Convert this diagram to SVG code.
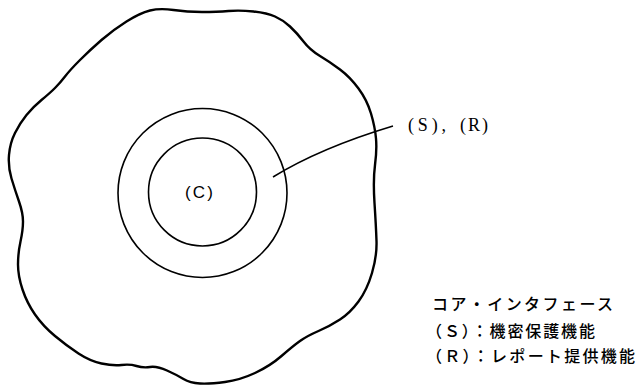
<svg xmlns="http://www.w3.org/2000/svg" width="638" height="386" viewBox="0 0 638 386">
<style>
.blob{fill:none;stroke:#000;stroke-width:2.4;stroke-linejoin:round}
.ring{fill:none;stroke:#000;stroke-width:1.6}
.lead{fill:none;stroke:#000;stroke-width:1.5}
.lbl{font-family:"Liberation Sans",Arial,sans-serif;font-size:17px;fill:#000}
.ser{font-family:"Liberation Serif","Times New Roman",serif;font-size:18px;fill:#000}
.jp{font-family:"Noto Sans CJK JP","Noto Sans CJK SC",sans-serif;font-size:16px;fill:#000;font-weight:500}
</style>
<rect width="638" height="386" fill="#fff"/>
<g id="environment">
<path class="blob" d="M150,10.5 Q160,8 173.5,10 Q187,12 202,12 Q217,12 228.5,11 Q240,10 253.5,11.5 Q267,13 275,16.5 Q283,20 290,26.5 Q297,33 303.5,41.5 Q310,50 320,56 Q330,62 340,69.5 Q350,77 358.5,88.5 Q367,100 371,113.5 Q375,127 376,138.5 Q377,150 375,165 Q373,180 374.5,203 Q376,226 376.5,241 Q377,256 372,273 Q367,290 358.5,301.5 Q350,313 340,319.5 Q330,326 318.5,331 Q307,336 300,341 Q293,346 281.5,356 Q270,366 255,373 Q240,380 225,382 Q210,384 200,383.5 Q190,383 183.5,379 Q177,375 167,370.5 Q157,366 150,367 Q143,368 136.5,366 Q130,364 121.5,365 Q113,366 101.5,363.5 Q90,361 78.5,353.5 Q67,346 55,336 Q43,326 35,314.5 Q27,303 22.5,289.5 Q18,276 18,264.5 Q18,253 20.5,241.5 Q23,230 23,221.5 Q23,213 19,201.5 Q15,190 11.5,178.5 Q8,167 9,155 Q10,143 15,133 Q20,123 26.5,115 Q33,107 41.5,100 Q50,93 55,88 Q60,83 65,76.5 Q70,70 80,60 Q90,50 101.5,40 Q113,30 126.5,21.5 Q140,13 150,10.5 Z"/>
</g>
<g id="ring-SR">
<circle class="ring" cx="202.5" cy="193" r="84.5"/>
</g>
<g id="core-C">
<circle class="ring" cx="202.5" cy="192" r="54"/>
<text class="lbl" x="185" y="198" textLength="28" lengthAdjust="spacing">(C)</text>
</g>
<g id="connectors">
<path class="lead" d="M273,177 Q320,148 393,126"/>
</g>
<g id="label-SR">
<text class="ser" x="408" y="131"><tspan x="408" textLength="38" lengthAdjust="spacing">(S),</tspan><tspan x="460" textLength="28" lengthAdjust="spacing">(R)</tspan></text>
</g>
<g id="legend">
<text class="jp" x="432" y="310" textLength="181" lengthAdjust="spacing">コア・インタフェース</text>
<text class="jp" x="426" y="337" textLength="169" lengthAdjust="spacing">（Ｓ）：機密保護機能</text>
<text class="jp" x="426" y="362" textLength="209" lengthAdjust="spacing">（Ｒ）：レポート提供機能</text>
</g>
</svg>
